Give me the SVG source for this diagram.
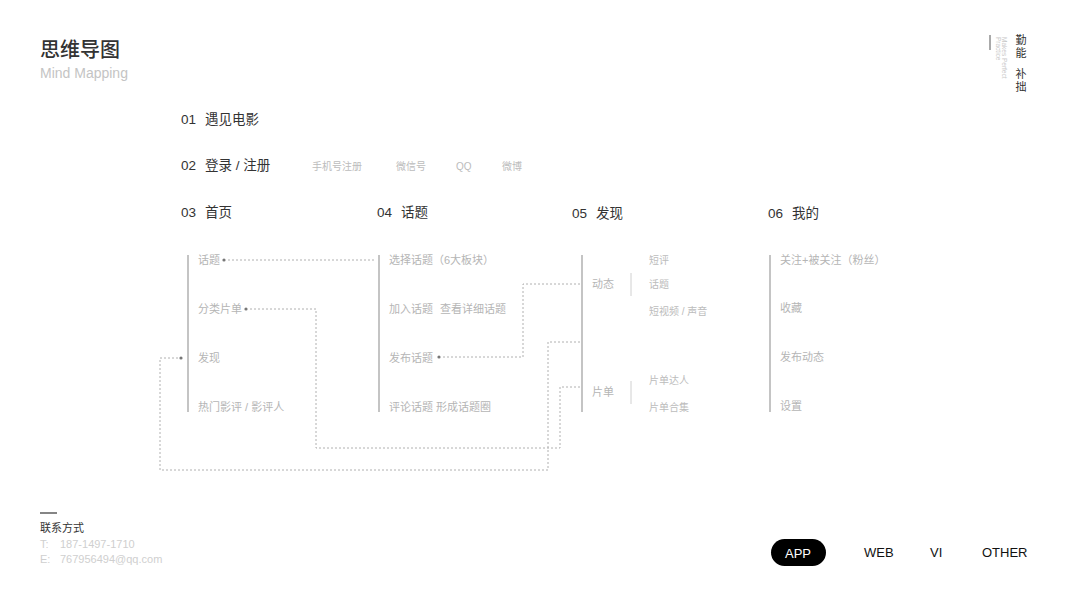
<svg xmlns="http://www.w3.org/2000/svg" width="1067" height="600" viewBox="0 0 1067 600">
<style>
text{font-family:"Liberation Sans","Noto Sans CJK SC",sans-serif;dominant-baseline:central}
.h{font-size:13.5px;fill:#333}
.it{font-size:11px;fill:#b5b5b5}
.sub{font-size:10px;fill:#bcbcbc}
.vl{stroke:#b0b0b0;stroke-width:1.5;fill:none}
.sl{stroke:#d0d0d0;stroke-width:1;fill:none}
.dl{stroke:#b0b0b0;stroke-width:1;stroke-dasharray:2 2;fill:none}
.dot{fill:#777}
.nav{font-size:13px;fill:#111}
.ct{font-size:11px;fill:#cfcfcf}
</style>
<rect width="1067" height="600" fill="#fff"/>
<g id="title">
<text x="40" y="48" style="font-size:20px;fill:#333;font-weight:500;font-family:'Noto Sans CJK SC',sans-serif">思维导图</text>
<text x="40" y="73" style="font-size:14px;fill:#c4c4c4">Mind Mapping</text>
</g>
<g id="motto">
<line x1="990" y1="35" x2="990" y2="50" stroke="#555" stroke-width="1"/>
<text transform="translate(998,37) rotate(90)" style="font-size:6.5px;fill:#c8c8c8">Practice</text>
<text transform="translate(1004,37) rotate(90)" style="font-size:6.5px;fill:#c8c8c8">Makes Perfect</text>
<text x="1021" y="40" text-anchor="middle" style="font-size:11px;fill:#333">勤</text>
<text x="1021" y="53" text-anchor="middle" style="font-size:11px;fill:#333">能</text>
<text x="1021" y="74" text-anchor="middle" style="font-size:11px;fill:#333">补</text>
<text x="1021" y="87" text-anchor="middle" style="font-size:11px;fill:#333">拙</text>
</g>
<g id="n01"><text x="181" y="119" class="h">01</text><text x="205" y="119" class="h">遇见电影</text></g>
<g id="n02">
<text x="181" y="165" class="h">02</text><text x="205" y="165" class="h">登录 / 注册</text>
<text x="312" y="166" class="sub">手机号注册</text>
<text x="396" y="166" class="sub">微信号</text>
<text x="456" y="166" class="sub">QQ</text>
<text x="502" y="166" class="sub">微博</text>
</g>
<g id="n03">
<text x="181" y="212" class="h">03</text><text x="205" y="212" class="h">首页</text>
<line x1="188" y1="255" x2="188" y2="412" class="vl"/>
<text x="198" y="260" class="it">话题</text>
<text x="198" y="309" class="it">分类片单</text>
<text x="198" y="358" class="it">发现</text>
<text x="198" y="407" class="it">热门影评 / 影评人</text>
</g>
<g id="n04">
<text x="377" y="212" class="h">04</text><text x="401" y="212" class="h">话题</text>
<line x1="379" y1="255" x2="379" y2="412" class="vl"/>
<text x="389" y="260" class="it">选择话题（6大板块）</text>
<text x="389" y="309" class="it">加入话题</text><text x="440" y="309" class="it">查看详细话题</text>
<text x="389" y="358" class="it">发布话题</text>
<text x="389" y="407" class="it">评论话题</text><text x="436" y="407" class="it">形成话题圈</text>
</g>
<g id="n05">
<text x="572" y="213" class="h">05</text><text x="596" y="213" class="h">发现</text>
<line x1="582" y1="255" x2="582" y2="412" class="vl"/>
<text x="592" y="284" class="it">动态</text>
<text x="592" y="392" class="it">片单</text>
<line x1="631" y1="273" x2="631" y2="296" class="sl"/>
<line x1="631" y1="381" x2="631" y2="404" class="sl"/>
<text x="649" y="260" class="sub">短评</text>
<text x="649" y="284" class="sub">话题</text>
<text x="649" y="311" class="sub">短视频 / 声音</text>
<text x="649" y="380" class="sub">片单达人</text>
<text x="649" y="407" class="sub">片单合集</text>
</g>
<g id="n06">
<text x="768" y="213" class="h">06</text><text x="792" y="213" class="h">我的</text>
<line x1="770" y1="255" x2="770" y2="412" class="vl"/>
<text x="780" y="260" class="it">关注+被关注（粉丝）</text>
<text x="780" y="308" class="it">收藏</text>
<text x="780" y="357" class="it">发布动态</text>
<text x="780" y="406" class="it">设置</text>
</g>
<g id="connectors">
<polyline points="228,260 376,260" class="dl"/>
<polyline points="250,309 316,309 316,448 560,448 560,387 581,387" class="dl"/>
<polyline points="178,358 160,358 160,470 548,470 548,342 581,342" class="dl"/>
<polyline points="443,357 523,357 523,284 581,284" class="dl"/>
<circle cx="224" cy="260" r="1.6" class="dot"/>
<circle cx="246" cy="309" r="1.6" class="dot"/>
<circle cx="181" cy="358" r="1.6" class="dot"/>
<circle cx="439" cy="357" r="1.6" class="dot"/>
</g>
<g id="contact">
<line x1="40" y1="513" x2="57" y2="513" stroke="#333" stroke-width="1.2"/>
<text x="40" y="527" style="font-size:11px;fill:#333;font-family:'Noto Sans CJK SC',sans-serif">联系方式</text>
<text x="40" y="544" class="ct">T:</text><text x="60" y="544" class="ct">187-1497-1710</text>
<text x="40" y="559" class="ct">E:</text><text x="60" y="559" class="ct">767956494@qq.com</text>
</g>
<g id="nav">
<rect x="771" y="539" width="55" height="27" rx="13.5" fill="#000"/>
<text x="798" y="553" text-anchor="middle" style="font-size:13px;fill:#fff">APP</text>
<text x="864" y="552" class="nav">WEB</text>
<text x="930" y="552" class="nav">VI</text>
<text x="982" y="552" class="nav">OTHER</text>
</g>
</svg>
